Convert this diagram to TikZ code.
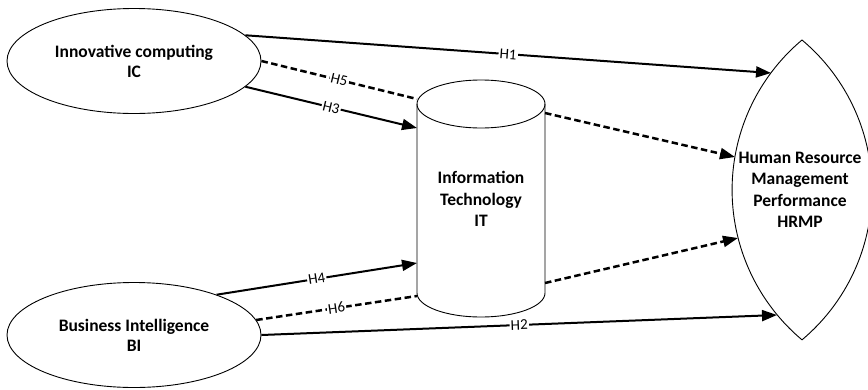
\documentclass[tikz,border=0pt]{standalone}
\usepackage{fontspec}
\setmainfont{Carlito}
\usetikzlibrary{arrows.meta,shapes.geometric}
\begin{document}
\begin{tikzpicture}[x=1pt,y=-1pt,
  ent/.style={draw, ellipse, line width=0.9pt, minimum width=254pt, minimum height=105pt, inner sep=0pt, align=center, font=\bfseries\fontsize{17.5}{20}\selectfont},
  txt/.style={align=center, inner sep=0pt, font=\bfseries\fontsize{17.5}{21.5}\selectfont},
  outl/.style={line width=0.9pt},
  tip/.style={-{Triangle[length=15pt,width=11pt]}},
  conn/.style={line width=2pt, tip},
  dashln/.style={line width=2.5pt, dash pattern=on 6.5pt off 3.5pt},
  lbl/.style={fill=white, inner sep=1.2pt, sloped, font=\fontsize{15}{16}\selectfont}]
\useasboundingbox (0,0) rectangle (868,389);
% entities
\node[ent] (ic) at (134,61) {Innovative computing\\IC};
\node[ent] (bi) at (134,335) {Business Intelligence\\BI};
% cylinder
\fill[white] (417,104) -- (417,293) arc[start angle=180,end angle=0,x radius=64,y radius=24] -- (545,104) -- cycle;
\draw[outl] (481,104) ellipse[x radius=64, y radius=24];
\draw[outl] (417,104) -- (417,293) arc[start angle=180,end angle=0,x radius=64,y radius=24] -- (545,104);
\node[txt] (it) at (481,199) {Information\\Technology\\IT};
% lens
\draw[outl] (802,40) arc[start angle=230,end angle=130,radius=195.7] arc[start angle=50,end angle=-50,radius=195.7] -- cycle;
\node[txt] (hrmp) at (800,190) {Human Resource\\Management\\Performance\\HRMP};
% connection points
\coordinate (itH5in) at (417,99);
\coordinate (itH5out) at (545,113);
\coordinate (itH3) at (417,128);
\coordinate (itH4) at (417,263);
\coordinate (itH6in) at (417,296);
\coordinate (itH6out) at (545,283);
\coordinate (hH1) at (771,73);
\coordinate (hH5) at (735,157);
\coordinate (hH6) at (738,238);
\coordinate (hH2) at (777,315);
% connectors
\draw[conn] (ic.13) -- node[lbl]{H1} (hH1);
\draw[dashln] (ic.east) -- node[lbl]{H5} (itH5in);
\draw[dashln,tip] (itH5out) -- (hH5);
\draw[conn] (ic.-13) -- node[lbl]{H3} (itH3);
\draw[conn] (bi.26) -- node[lbl]{H4} (itH4);
\draw[dashln] (bi.7.5) -- node[lbl]{H6} (itH6in);
\draw[dashln,tip] (itH6out) -- (hH6);
\draw[conn] (bi.east) -- node[lbl]{H2} (hH2);
\end{tikzpicture}
\end{document}
